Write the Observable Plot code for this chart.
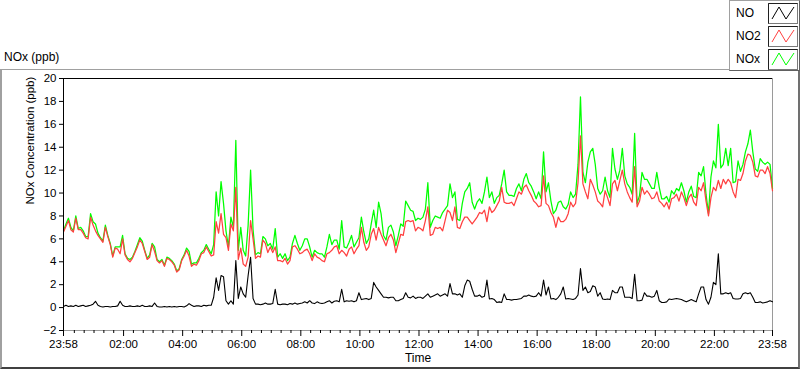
<!DOCTYPE html>
<html><head><meta charset="utf-8">
<script src="https://cdn.jsdelivr.net/npm/d3@7"></script>
<script src="https://cdn.jsdelivr.net/npm/@observablehq/plot@0.6"></script>
<style>
body{margin:0;background:#fff;font-family:"Liberation Sans",Arial,sans-serif;color:#000;}
#wrap{position:relative;width:800px;height:369px;overflow:hidden;background:#fff;}
#frame{position:absolute;left:0;top:69px;width:800px;height:300px;box-sizing:border-box;border-top:1px solid #a0a0a0;border-left:2px solid #a0a0a0;border-right:2px solid #707070;border-bottom:2px solid #404040;}
#title{position:absolute;left:4px;top:50px;font-size:12px;line-height:14px;}
#chart{position:absolute;left:0;top:0;}
#legend{position:absolute;left:729px;top:0;width:71px;height:71px;box-sizing:border-box;border:1px solid #a0a0a0;border-right-color:#606060;border-bottom-color:#606060;background:#fff;}
.item{position:absolute;left:0;width:70px;height:21px;}
.item span{position:absolute;left:6px;top:3px;font-size:12px;line-height:14px;}
.item svg{position:absolute;left:38px;top:0;}
</style>
</head><body>
<div id="wrap">
  <div id="frame"></div>
  <div id="chart"></div>
  <div id="title">NOx (ppb)</div>
  <div id="legend"></div>
</div>
<script>
// time axis: minutes after midnight, from 23:58 (-2) to 23:58 (1438), sampled every 5 min
const xTickValues = [-2, 120, 240, 360, 480, 600, 720, 840, 960, 1080, 1200, 1320, 1438];
const xTickLabels = ["23:58","02:00","04:00","06:00","08:00","10:00","12:00","14:00","16:00","18:00","20:00","22:00","23:58"];
const yTicks = [-2,0,2,4,6,8,10,12,14,16,18,20];
const seriesNames = ["NO","NO2","NOx"];
const seriesColors = ["#000000","#ff4040","#00ff00"];

const NO = [
0.1,0.2,0.1,0.15,0.1,0.2,0.1,0.15,0.2,0.1,
0.15,0.2,0.3,0.55,0.2,0.1,0.05,0.1,0.1,0.05,
0.1,0.1,0.15,0.55,0.2,0.1,0.1,0.15,0.1,0.1,
0.15,0.1,0.2,0.1,0.1,0.15,0.1,0.4,0.1,0.05,
0.05,0.1,0.05,0.1,0.05,0.1,0.05,0.1,0.1,0.05,
0.15,0.35,0.2,0.1,0.15,0.15,0.1,0.2,0.15,0.2,
0.2,0.9,2.6,1.5,2.8,2.7,0.6,0.3,0.6,0.3,
4.1,0.8,1.8,1.2,0.9,2.8,4.4,0.8,0.3,0.3,
0.25,0.3,0.4,0.3,0.3,0.35,1.6,0.3,0.25,0.3,
0.3,0.25,0.35,0.3,0.4,0.3,0.35,0.4,0.5,0.4,
0.6,0.4,0.35,0.5,0.4,0.35,0.4,0.5,0.6,0.4,
0.55,0.6,0.5,1.6,0.5,0.6,0.55,0.6,0.5,0.6,
1.3,0.7,0.75,0.8,0.7,0.8,2.2,1.8,1.5,1.2,
0.9,0.9,0.85,0.9,0.9,0.6,0.6,0.7,0.8,1.3,
0.9,0.85,1.0,0.8,0.9,0.9,0.8,1.0,1.2,0.9,
1.0,1.1,1.2,1.0,1.1,1.2,1.0,2.1,1.2,1.2,
1.1,1.2,0.9,1.9,2.4,2.3,1.6,1.0,1.0,1.1,
0.9,1.0,2.4,0.75,0.8,0.7,0.45,0.5,0.45,1.2,
0.7,0.7,0.65,0.7,0.7,0.75,0.8,1.0,1.0,1.1,
1.0,0.95,1.0,1.3,1.0,2.4,1.1,1.8,0.75,0.8,
0.7,0.9,1.2,1.8,0.75,0.8,0.75,0.7,0.8,1.1,
3.4,1.5,1.8,1.3,1.4,1.9,1.8,1.0,1.3,0.75,
0.7,0.75,0.7,1.5,1.3,1.3,1.8,1.8,0.9,0.9,
0.9,0.8,2.9,0.6,0.6,0.65,1.3,1.0,1.0,0.9,
1.0,1.5,0.6,0.45,0.45,0.5,0.75,0.7,0.75,0.8,
0.75,0.7,0.6,0.5,0.6,0.7,0.6,0.5,1.2,1.8,
1.8,0.7,0.3,0.9,2.2,2.0,4.7,1.2,1.2,1.3,
1.2,1.3,0.8,0.75,0.75,0.8,1.2,1.3,1.2,1.3,
0.9,0.45,0.45,0.5,0.4,0.45,0.5,0.6,0.5
];

const NO2 = [
6.6,7.1,7.6,6.8,6.6,7.8,6.8,6.8,6.5,6.1,
6.0,7.9,7.2,6.7,6.3,6.0,5.7,7.0,6.2,5.5,
4.4,5.2,5.1,4.7,6.0,4.6,4.2,4.0,4.3,4.8,
5.3,5.9,5.6,4.9,4.2,4.4,5.5,4.9,4.1,3.9,
4.1,3.6,4.3,4.2,4.0,3.7,3.1,3.3,4.1,4.5,
5.0,4.5,3.6,3.8,3.7,4.1,4.7,4.8,5.3,4.9,
4.5,4.6,7.5,6.5,8.2,6.4,6.1,5.0,7.3,6.7,
10.5,4.2,5.2,3.8,3.6,4.4,7.6,6.0,4.3,4.5,
4.4,5.9,5.6,4.8,5.3,4.8,5.3,4.1,4.1,4.0,
4.3,3.8,4.1,5.3,5.4,5.1,4.7,4.8,5.0,5.1,
4.7,4.1,4.7,4.4,4.3,4.1,4.0,4.7,4.8,5.0,
5.3,5.4,4.7,5.0,4.8,4.5,5.1,5.3,4.7,5.1,
5.4,7.0,5.7,5.0,5.3,6.4,6.9,5.9,7.0,6.4,
5.9,5.4,6.1,6.4,5.9,4.8,5.6,6.4,6.3,7.5,
7.6,7.5,7.6,6.7,7.0,6.9,6.7,7.6,8.8,6.3,
6.4,7.0,6.9,7.0,6.7,7.6,8.5,8.3,7.6,8.8,
7.0,6.9,7.5,7.9,7.9,7.6,7.3,7.6,7.9,8.3,
8.2,8.5,7.5,8.8,8.3,8.5,8.9,9.3,10.5,9.2,
9.1,9.1,9.2,8.9,9.5,10.1,9.9,10.5,10.7,10.2,
9.8,9.3,9.1,8.8,8.9,11.5,9.1,8.9,8.3,7.9,
7.0,7.9,7.5,7.5,7.7,8.2,9.2,8.8,9.1,10.9,
15.0,10.8,10.1,9.5,11.2,10.7,10.1,9.3,9.1,8.8,
10.2,9.6,8.9,10.8,11.1,10.2,11.1,12.0,10.8,10.1,
9.6,9.2,12.3,8.8,9.3,10.5,9.9,10.2,9.9,9.5,
9.6,10.1,9.3,9.1,8.8,9.2,8.6,9.5,9.6,9.9,
9.3,10.1,9.6,8.9,9.6,9.9,9.2,8.9,10.5,10.2,
10.9,9.3,8.0,9.6,10.5,10.2,11.1,10.4,11.2,10.8,
11.2,10.9,10.1,9.6,11.2,11.1,11.7,12.8,13.4,13.3,
12.7,11.5,11.4,12.0,12.0,11.7,12.3,11.7,10.2
];

const NOx = [
6.7,7.3,7.8,7.0,6.7,8.0,6.9,7.0,6.7,6.2,
6.2,8.2,7.5,7.3,6.5,6.1,5.8,7.2,6.3,5.6,
4.5,5.3,5.3,5.3,6.3,4.7,4.3,4.2,4.4,4.9,
5.5,6.1,5.8,5.0,4.3,4.6,5.6,5.3,4.2,4.0,
4.2,3.7,4.4,4.3,4.1,3.8,3.2,3.4,4.2,4.6,
5.2,4.9,3.8,3.9,3.9,4.3,4.8,5.0,5.5,5.1,
4.7,5.5,10.1,8.0,11.0,9.1,6.7,5.3,7.9,7.0,
14.6,5.0,7.0,5.0,4.5,7.2,12.0,6.8,4.6,4.8,
4.7,6.2,6.0,5.4,5.6,5.1,6.9,4.4,4.7,4.3,
4.7,4.1,4.4,5.6,6.3,5.6,5.0,5.4,6.0,6.0,
5.3,4.4,5.0,4.8,4.7,4.7,4.4,5.3,6.4,5.5,
5.9,5.9,5.1,7.6,5.3,5.2,5.7,6.3,5.3,5.7,
6.1,7.9,6.6,5.6,6.0,7.3,8.5,7.0,9.2,8.2,
6.3,5.9,7.0,7.2,6.6,5.4,6.3,7.3,7.1,9.3,
8.9,8.5,8.4,7.6,7.8,7.7,7.9,8.6,10.9,7.0,
7.6,8.0,7.9,7.8,8.3,8.6,8.9,10.8,9.6,10.1,
7.7,7.6,9.1,10.1,10.4,10.9,9.2,8.6,9.2,9.5,
9.1,10.1,11.4,9.6,10.1,9.1,9.6,9.8,10.8,12.0,
10.1,9.8,9.8,9.7,10.4,10.8,10.2,11.2,11.7,10.9,
10.6,10.1,9.5,10.1,9.5,13.6,10.1,10.9,9.3,8.2,
8.5,9.2,9.3,8.8,8.6,9.0,10.1,9.6,9.9,12.5,
18.4,11.8,10.9,12.7,13.6,13.9,12.5,10.4,9.9,10.2,
11.4,10.2,9.6,13.9,12.1,11.2,12.0,13.9,11.5,10.8,
10.5,9.9,15.2,9.1,9.8,11.8,11.2,11.2,10.8,10.4,
10.4,11.8,10.5,9.5,9.5,9.7,9.2,10.2,9.9,10.4,
10.2,10.9,10.2,9.2,10.1,10.6,9.7,9.6,11.8,11.5,
12.3,9.9,8.2,11.4,12.8,12.2,16.0,12.2,12.5,13.9,
12.4,13.9,10.9,11.0,12.8,11.9,12.5,13.6,14.3,15.5,
13.6,12.1,11.9,13.0,12.7,12.5,12.7,12.5,10.4
];

const startMinute = -2, stepMinutes = 5;
const rows = NO.map((v, i) => ({t: startMinute + stepMinutes * i, NO: v, NO2: NO2[i], NOx: NOx[i]}));
const minorTicks = d3.range(20, 1438, 20).filter(v => !xTickValues.includes(v));

const font = '"Liberation Sans", Arial, sans-serif';
const chart = Plot.plot({
  width: 800, height: 369,
  marginLeft: 63, marginRight: 28, marginTop: 78, marginBottom: 39,
  style: {fontFamily: font, fontSize: "11px", background: "transparent", color: "#000", overflow: "visible"},
  x: {domain: [-2, 1438], axis: null},
  y: {domain: [-2, 20], axis: null},
  marks: [
    Plot.ruleY([-2], {stroke: "#9a9a9a"}),
    Plot.ruleX([1438], {stroke: "#9a9a9a"}),
    Plot.line(rows, {x: "t", y: "NOx", stroke: seriesColors[2], strokeWidth: 1.25}),
    Plot.line(rows, {x: "t", y: "NO2", stroke: seriesColors[1], strokeWidth: 1.25}),
    Plot.line(rows, {x: "t", y: "NO", stroke: seriesColors[0], strokeWidth: 1.1}),
    Plot.ruleY([20], {stroke: "#000"}),
    Plot.ruleX([-2], {stroke: "#000"}),
    Plot.axisY(yTicks, {anchor: "left", tickSize: 4, tickPadding: 3, label: null, fontSize: 11.5}),
    Plot.axisX(minorTicks, {anchor: "bottom", tickSize: 3, tickFormat: () => "", label: null}),
    Plot.axisX(xTickValues, {anchor: "bottom", tickSize: 6, tickPadding: 3, label: null, fontSize: 11.5,
      tickFormat: d => xTickLabels[xTickValues.indexOf(d)]}),
    Plot.text(["NOx Concentration (ppb)"], {frameAnchor: "left", dx: -33, rotate: -90, fontSize: 11.5}),
    Plot.text(["Time"], {frameAnchor: "bottom", dy: 31, fontSize: 12})
  ]
});
document.getElementById("chart").appendChild(chart);

// legend
const legend = document.getElementById("legend");
seriesNames.forEach((name, k) => {
  const item = document.createElement("div");
  item.className = "item";
  item.style.top = (2 + k * 23) + "px";
  item.innerHTML = `<span>${name}</span>` +
    `<svg width="30" height="21"><rect x="0.5" y="0.5" width="29" height="20" fill="#fff" stroke="#7a7a7a"/>` +
    `<line x1="0.5" y1="0.5" x2="29.5" y2="0.5" stroke="#202020"/><line x1="0.5" y1="0.5" x2="0.5" y2="20.5" stroke="#202020"/>` +
    `<polyline points="4,16 11,4 18,16 26,4" fill="none" stroke="${seriesColors[k]}" stroke-width="1"/></svg>`;
  legend.appendChild(item);
});
</script>
</body></html>
